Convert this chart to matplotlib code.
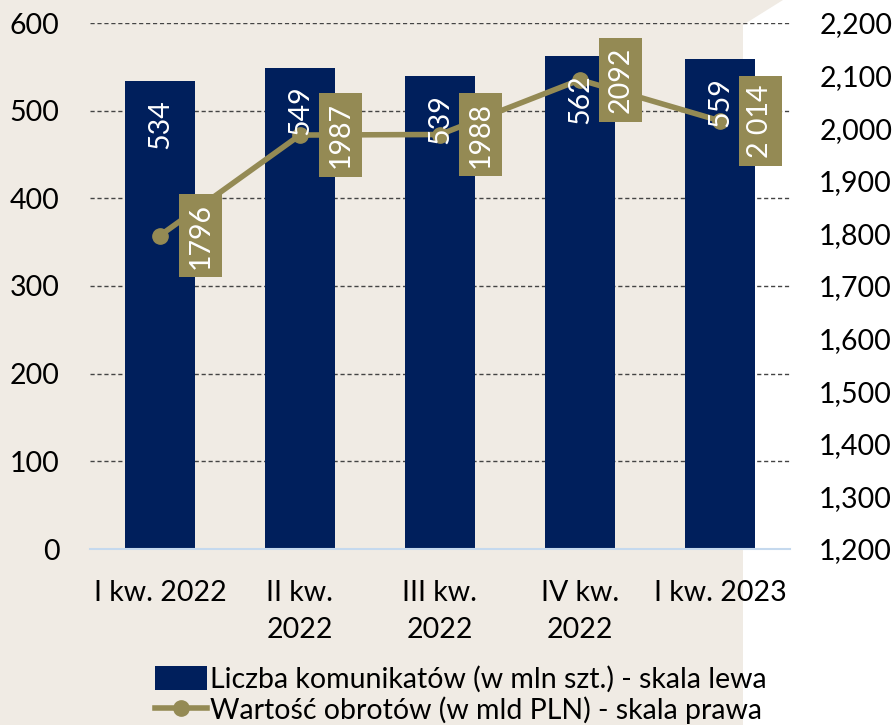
import matplotlib
matplotlib.use("Agg")
import matplotlib.pyplot as plt
from matplotlib.patches import Polygon, Patch
from matplotlib.lines import Line2D
from matplotlib.ticker import FuncFormatter

# data
categories = ['I kw. 2022', 'II kw.\n2022', 'III kw.\n2022', 'IV kw.\n2022', 'I kw. 2023']
liczba = [534, 549, 539, 562, 559]
wartosc = [1796, 1987, 1988, 2092, 2014]
wartosc_labels = ['1796', '1987', '1988', '2092', '2 014']

navy = '#001f5c'
olive = '#948a54'
beige = '#f0ebe4'

plt.rcParams['font.family'] = ['Lato', 'DejaVu Sans']
fs = 20.5

fig = plt.figure(figsize=(8.93, 7.25), dpi=100)
fig.patch.set_facecolor('white')

# beige background with the cut corner at the top right
W, H = 893, 725
bg = fig.add_axes([0, 0, 1, 1], zorder=-10)
bg.set_xlim(0, W)
bg.set_ylim(H, 0)
bg.axis('off')
pts = [(0, 0), (783, 0), (743, 25), (743, 725), (0, 725)]
bg.add_patch(Polygon(pts, closed=True, fc=beige, ec='none'))

ax = fig.add_axes([90 / W, 1 - 549 / H, 700 / W, 526 / H])
ax.patch.set_visible(False)
x = list(range(len(categories)))

bars = ax.bar(x, liczba, width=0.5, color=navy, zorder=2)
ax.set_ylim(0, 600)
ax.set_xlim(-0.5, len(categories) - 0.5)
ax.set_yticks(range(0, 601, 100))
for v in range(100, 601, 100):
    ax.axhline(v, color='#444444', lw=1, ls=(0, (3, 2)), zorder=1)
for s in ['top', 'right', 'left']:
    ax.spines[s].set_visible(False)
ax.spines['bottom'].set_color('#c5d9ee')
ax.spines['bottom'].set_linewidth(1.5)
ax.set_xticks(x)
ax.set_xticklabels(categories, fontsize=fs, linespacing=1.55)
ax.tick_params(axis='x', length=0, pad=22)
ax.tick_params(axis='y', length=0, pad=22, labelsize=fs)

ax2 = ax.twinx()
ax2.set_ylim(1200, 2200)
ax2.set_yticks(range(1200, 2201, 100))
ax2.yaxis.set_major_formatter(FuncFormatter(lambda v, p: f'{int(v):,}'))
ax2.tick_params(axis='y', length=0, pad=21, labelsize=fs)
for s in ax2.spines.values():
    s.set_visible(False)

ax2.plot(x, wartosc, color=olive, lw=4, marker='o', markersize=11, zorder=3)

# bar labels drawn on the top axes so they sit over the line, like the original
for xi, v in zip(x, liczba):
    ax2.annotate(str(v), (xi, v), xycoords=ax.transData, xytext=(0, -13),
                 textcoords='offset points', rotation=90, ha='center', va='top',
                 color='white', fontsize=fs, zorder=4)

for xi, v, lab in zip(x, wartosc, wartosc_labels):
    ax2.annotate(lab, (xi, v), xytext=(29, 0), textcoords='offset points',
                 rotation=90, ha='center', va='center', color='white', fontsize=fs,
                 bbox=dict(boxstyle='square,pad=0.3', fc=olive, ec='none'), zorder=5)

handles = [Patch(facecolor=navy, edgecolor='none'),
           Line2D([0], [0], color=olive, lw=4, marker='o', markersize=11)]
fig.legend(handles, ['Liczba komunikatów (w mln szt.) - skala lewa',
                     'Wartość obrotów (w mld PLN) - skala prawa'],
           loc='lower center', bbox_to_anchor=(0.516, -0.034), frameon=False,
           fontsize=fs, handlelength=1.85, handleheight=0.9, handletextpad=0.1,
           labelspacing=0.12)

fig.savefig('out.png', dpi=100)
